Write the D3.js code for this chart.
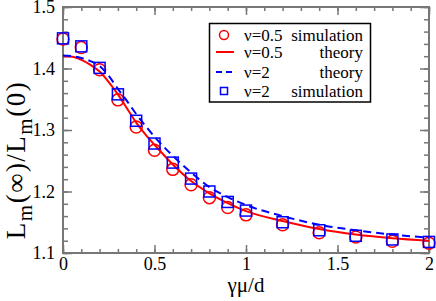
<!DOCTYPE html>
<html>
<head>
<meta charset="utf-8">
<script src="https://cdn.jsdelivr.net/npm/d3@7"></script>
<style>
  body { margin: 0; background: #fff; }
  svg { display: block; }
  svg text { font-family: "Liberation Serif", "Times New Roman", serif !important; }
</style>
</head>
<body>
<script>
// data
var simX = [0, 0.1, 0.2, 0.3, 0.4, 0.5, 0.6, 0.7, 0.8, 0.9, 1.0, 1.2, 1.4, 1.6, 1.8, 2.0]
var simNu05 = [1.448, 1.434, 1.398, 1.349, 1.305, 1.267, 1.236, 1.211, 1.190, 1.174, 1.162, 1.146, 1.133, 1.126, 1.119, 1.116]
var simNu2 = [1.449, 1.436, 1.401, 1.358, 1.315, 1.278, 1.247, 1.221, 1.200, 1.183, 1.169, 1.150, 1.137, 1.128, 1.122, 1.118]

var theoryX = [0, 0.05, 0.1, 0.15, 0.2, 0.25, 0.3, 0.35, 0.4, 0.45, 0.5, 0.6, 0.7, 0.8, 0.9, 1.0, 1.2, 1.4, 1.6, 1.8, 2.0]
var theoryNu05 = [1.420, 1.419, 1.414, 1.406, 1.395, 1.378, 1.358, 1.335, 1.312, 1.293, 1.276, 1.244, 1.217, 1.197, 1.181, 1.168, 1.152, 1.139, 1.130, 1.124, 1.120]
var theoryNu2 = [1.421, 1.420, 1.417, 1.412, 1.404, 1.388, 1.367, 1.347, 1.326, 1.307, 1.289, 1.258, 1.231, 1.207, 1.191, 1.178, 1.160, 1.146, 1.137, 1.130, 1.125]

var xMajor = [0, 0.5, 1, 1.5, 2]
var yMajor = [1.1, 1.2, 1.3, 1.4, 1.5]

var W = 436, H = 301
var pL = 63, pR = 429, pT = 7, pB = 253
var axisColor = '#777'

var svg = d3.select('body').append('svg')
  .attr('width', W)
  .attr('height', H)
  .attr('font-family', '"Liberation Serif", serif')

var x = d3.scaleLinear().domain([0, 2]).range([pL, pR])
var y = d3.scaleLinear().domain([1.1, 1.5]).range([pB, pT])

var xMinor = d3.range(0, 2.001, 0.1)
var yMinor = d3.range(1.1, 1.501, 0.02)

function styleAxis(g) {
  g.attr('font-family', null)
  g.select('.domain').remove()
  g.selectAll('line').attr('stroke', axisColor).attr('stroke-width', 1.5)
  g.selectAll('text').attr('fill', '#000')
}

// minor ticks, all four sides
svg.append('g').attr('transform', 'translate(0,' + pB + ')')
  .call(d3.axisBottom(x).tickValues(xMinor).tickSize(-4).tickFormat(''))
  .call(styleAxis)
svg.append('g').attr('transform', 'translate(0,' + pT + ')')
  .call(d3.axisTop(x).tickValues(xMinor).tickSize(-4).tickFormat(''))
  .call(styleAxis)
svg.append('g').attr('transform', 'translate(' + pL + ',0)')
  .call(d3.axisLeft(y).tickValues(yMinor).tickSize(-5).tickFormat(''))
  .call(styleAxis)
svg.append('g').attr('transform', 'translate(' + pR + ',0)')
  .call(d3.axisRight(y).tickValues(yMinor).tickSize(-5).tickFormat(''))
  .call(styleAxis)

// major ticks + labels
svg.append('g').attr('transform', 'translate(0,' + pB + ')')
  .call(d3.axisBottom(x).tickValues(xMajor).tickSizeInner(-8).tickSizeOuter(0).tickPadding(4).tickFormat(d3.format('')))
  .call(styleAxis)
  .selectAll('text').attr('font-size', 18)
svg.append('g').attr('transform', 'translate(0,' + pT + ')')
  .call(d3.axisTop(x).tickValues(xMajor).tickSizeInner(-8).tickSizeOuter(0).tickFormat(''))
  .call(styleAxis)
svg.append('g').attr('transform', 'translate(' + pL + ',0)')
  .call(d3.axisLeft(y).tickValues(yMajor).tickSizeInner(-9).tickSizeOuter(0).tickPadding(8).tickFormat(d3.format('.1f')))
  .call(styleAxis)
  .selectAll('text').attr('font-size', 18)
svg.append('g').attr('transform', 'translate(' + pR + ',0)')
  .call(d3.axisRight(y).tickValues(yMajor).tickSizeInner(-9).tickSizeOuter(0).tickFormat(''))
  .call(styleAxis)

// frame
svg.append('rect')
  .attr('x', pL).attr('y', pT)
  .attr('width', pR - pL).attr('height', pB - pT)
  .attr('fill', 'none')
  .attr('stroke', axisColor)
  .attr('stroke-width', 2)

var plot = svg.append('g')

// v=0.5 simulation
plot.selectAll('circle.sim05')
  .data(simX.map(function(d, i) { return [d, simNu05[i]] }))
  .enter().append('circle')
  .attr('class', 'sim05')
  .attr('cx', function(d) { return x(d[0]) })
  .attr('cy', function(d) { return y(d[1]) })
  .attr('r', 6)
  .attr('fill', 'none')
  .attr('stroke', 'red')
  .attr('stroke-width', 1.5)

var line = d3.line()
  .x(function(d) { return x(d[0]) })
  .y(function(d) { return y(d[1]) })
  .curve(d3.curveMonotoneX)

plot.append('path')
  .datum(theoryX.map(function(d, i) { return [d, theoryNu05[i]] }))
  .attr('d', line)
  .attr('fill', 'none')
  .attr('stroke', 'red')
  .attr('stroke-width', 2)

plot.append('path')
  .datum(theoryX.map(function(d, i) { return [d, theoryNu2[i]] }))
  .attr('d', line)
  .attr('fill', 'none')
  .attr('stroke', 'blue')
  .attr('stroke-width', 2)
  .attr('stroke-dasharray', '8,5')

// v=2 simulation
var sq = 11
plot.selectAll('rect.sim2')
  .data(simX.map(function(d, i) { return [d, simNu2[i]] }))
  .enter().append('rect')
  .attr('class', 'sim2')
  .attr('x', function(d) { return x(d[0]) - sq / 2 })
  .attr('y', function(d) { return y(d[1]) - sq / 2 })
  .attr('width', sq)
  .attr('height', sq)
  .attr('fill', 'none')
  .attr('stroke', 'blue')
  .attr('stroke-width', 1.5)

// axis titles
svg.append('text')
  .attr('x', 246).attr('y', 292)
  .attr('text-anchor', 'middle')
  .attr('font-size', 21)
  .text('γμ/d')

var ylab = svg.append('text')
  .attr('transform', 'translate(25,160) rotate(-90)')
  .attr('text-anchor', 'middle')
  .attr('font-size', 27)
  .attr('letter-spacing', 1.5)
ylab.append('tspan').text('L')
ylab.append('tspan').attr('dy', 7).attr('font-size', 21).text('m')
ylab.append('tspan').attr('dy', -7).text('(∞)/L')
ylab.append('tspan').attr('dy', 7).attr('font-size', 21).text('m')
ylab.append('tspan').attr('dy', -7).text('(0)')

// legend
var lg = svg.append('g')
lg.append('rect')
  .attr('x', 209.5).attr('y', 23.5)
  .attr('width', 161).attr('height', 78.5)
  .attr('fill', '#fff')
  .attr('stroke', '#000')
  .attr('stroke-width', 1.5)

var legRows = [35, 52, 72, 91]
var legNu = ['ν=0.5', 'ν=0.5', 'ν=2', 'ν=2']
var legKind = ['simulation', 'theory', 'theory', 'simulation']

lg.append('circle').attr('cx', 224).attr('cy', legRows[0]).attr('r', 4.5)
  .attr('fill', 'none').attr('stroke', 'red').attr('stroke-width', 1.5)
lg.append('line').attr('x1', 216).attr('x2', 234).attr('y1', legRows[1]).attr('y2', legRows[1])
  .attr('stroke', 'red').attr('stroke-width', 2)
lg.append('line').attr('x1', 216).attr('x2', 234).attr('y1', legRows[2]).attr('y2', legRows[2])
  .attr('stroke', 'blue').attr('stroke-width', 2).attr('stroke-dasharray', '6,4')
lg.append('rect').attr('x', 220.5).attr('y', legRows[3] - 3.5).attr('width', 7).attr('height', 7)
  .attr('fill', 'none').attr('stroke', 'blue').attr('stroke-width', 1.5)

legRows.forEach(function(ry, i) {
  lg.append('text').attr('x', 244).attr('y', ry + 5.5).attr('font-size', 17).text(legNu[i])
  lg.append('text').attr('x', 363).attr('y', ry + 5.5).attr('font-size', 17)
    .attr('text-anchor', 'end').text(legKind[i])
})
</script>
</body>
</html>
